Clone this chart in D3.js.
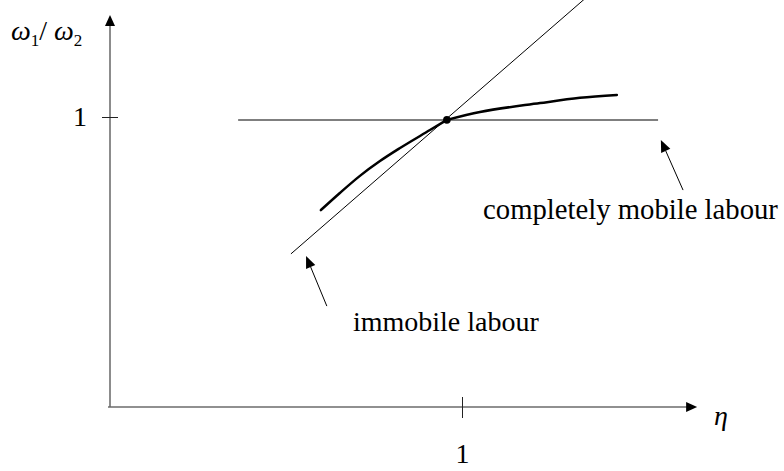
<!DOCTYPE html>
<html>
<head>
<meta charset="utf-8">
<script src="https://cdn.jsdelivr.net/npm/d3@7"></script>
<style>
body { margin: 0; background: #fff; }
text { font-family: "Liberation Serif", "Times New Roman", serif; fill: #000; }
</style>
</head>
<body>
<script>
var width = 784;
var height = 471;

// values (eta on x, w1/w2 on y)
var xTicks = [1];
var yTicks = [1];
var tickLabels = ["1"];
var xAxisEnd = 1.668;
var yAxisEnd = 1.352;

// 45 degree line = immobile labour
var immobileLine = [[0.514, 0.528], [1.37, 1.43]];
// horizontal line = completely mobile labour
var mobileLine = [[0.364, 0.99], [1.557, 0.99]];
// the curve between them (left and right of the equilibrium)
var curveLeftEta = [0.599, 0.653, 0.710, 0.767, 0.824, 0.909, 0.957];
var curveLeftRatio = [0.679, 0.738, 0.797, 0.848, 0.893, 0.955, 0.990];
var curveRightEta = [0.957, 1.051, 1.222, 1.335, 1.440];
var curveRightRatio = [0.990, 1.017, 1.048, 1.066, 1.076];
var equilibrium = [0.957, 0.99];

// annotation arrows: [tail, tip]
var arrows = [
  [[0.616, 0.348], [0.557, 0.521]],
  [[1.628, 0.748], [1.565, 0.921]]
];
var labels = ["immobile labour", "completely mobile labour"];
var labelPos = [[0.690, 0.262], [1.06, 0.648]];

var svg = d3.select("body").append("svg")
            .attr("width", width)
            .attr("height", height);

var x = d3.scaleLinear().domain([0, 1]).range([110, 462]);
var y = d3.scaleLinear().domain([0, 1]).range([407, 117]);

var line = d3.line()
             .x(function(d){ return x(d[0]); })
             .y(function(d){ return y(d[1]); });
var smooth = d3.line()
             .x(function(d){ return x(d[0]); })
             .y(function(d){ return y(d[1]); })
             .curve(d3.curveMonotoneX);

// axes lines
svg.append("line")
   .attr("x1", x(0) - 2).attr("x2", x(xAxisEnd) - 8)
   .attr("y1", y(0)).attr("y2", y(0))
   .attr("stroke", "#222").attr("stroke-width", 1.2);
svg.append("path")
   .attr("d", "M" + x(xAxisEnd) + "," + y(0) + "l-11,-5l0,10z")
   .attr("fill", "#000");

svg.append("line")
   .attr("x1", x(0)).attr("x2", x(0))
   .attr("y1", y(0)).attr("y2", y(yAxisEnd) + 8)
   .attr("stroke", "#666").attr("stroke-width", 1.5);
svg.append("path")
   .attr("d", "M" + x(0) + "," + y(yAxisEnd) + "l-5,11l10,0z")
   .attr("fill", "#000");

// ticks
var xAxis = d3.axisBottom(x)
    .tickValues(xTicks)
    .tickFormat(function(d, i){ return tickLabels[i]; })
    .tickSize(11)
    .tickPadding(25);
var gx = svg.append("g")
   .attr("transform", "translate(0," + y(0) + ")")
   .call(xAxis);
gx.select(".domain").remove();
gx.selectAll(".tick line").attr("y1", -10).attr("stroke", "#222");
gx.selectAll(".tick text")
  .attr("font-size", 28).attr("font-family", "Liberation Serif").attr("fill", "#000");

var yAxis = d3.axisLeft(y)
    .tickValues(yTicks)
    .tickFormat(function(d, i){ return tickLabels[i]; })
    .tickSize(8)
    .tickPadding(15);
var gy = svg.append("g")
   .attr("transform", "translate(" + x(0) + ",0)")
   .call(yAxis);
gy.select(".domain").remove();
gy.selectAll(".tick line").attr("x2", 8).attr("x1", -8).attr("stroke", "#222");
gy.selectAll(".tick text")
  .attr("font-size", 28).attr("font-family", "Liberation Serif").attr("fill", "#000");

// axis titles
var yt = svg.append("text")
   .attr("x", 11).attr("y", 40)
   .attr("font-size", 28);
yt.append("tspan").attr("font-style", "italic").text("\u03c9");
yt.append("tspan").attr("font-size", 17).attr("dy", 6).text("1");
yt.append("tspan").attr("dy", -6).text("/ ");
yt.append("tspan").attr("font-style", "italic").text("\u03c9");
yt.append("tspan").attr("font-size", 17).attr("dy", 6).text("2");

svg.append("text")
   .attr("x", 714).attr("y", 425)
   .attr("font-size", 28)
   .attr("font-style", "italic")
   .text("\u03b7");

// schedules
svg.append("path")
   .attr("d", line(immobileLine))
   .attr("stroke", "#000").attr("stroke-width", 1).attr("fill", "none");

svg.append("path")
   .attr("d", line(mobileLine))
   .attr("stroke", "#555").attr("stroke-width", 1.5).attr("fill", "none");

var leftPts = curveLeftEta.map(function(d, i){ return [d, curveLeftRatio[i]]; });
var rightPts = curveRightEta.map(function(d, i){ return [d, curveRightRatio[i]]; });
[leftPts, rightPts].forEach(function(pts){
  svg.append("path")
     .attr("d", smooth(pts))
     .attr("stroke", "#000").attr("stroke-width", 2.5)
     .attr("stroke-linecap", "round").attr("fill", "none");
});

svg.append("circle")
   .attr("cx", x(equilibrium[0])).attr("cy", y(equilibrium[1]))
   .attr("r", 3.8).attr("fill", "#000");

// annotations
arrows.forEach(function(a){
  var x0 = x(a[0][0]), y0 = y(a[0][1]), x1 = x(a[1][0]), y1 = y(a[1][1]);
  var ang = Math.atan2(y1 - y0, x1 - x0);
  var len = 12, hw = 5;
  var bx = x1 - len * Math.cos(ang), by = y1 - len * Math.sin(ang);
  svg.append("line")
     .attr("x1", x0).attr("y1", y0).attr("x2", bx).attr("y2", by)
     .attr("stroke", "#000").attr("stroke-width", 1);
  svg.append("path")
     .attr("d", "M" + x1 + "," + y1 +
                "L" + (bx + hw * Math.sin(ang)) + "," + (by - hw * Math.cos(ang)) +
                "L" + (bx - hw * Math.sin(ang)) + "," + (by + hw * Math.cos(ang)) + "Z")
     .attr("fill", "#000");
});

svg.selectAll("text.note")
   .data(labels)
   .enter()
   .append("text")
   .attr("class", "note")
   .attr("x", function(d, i){ return x(labelPos[i][0]); })
   .attr("y", function(d, i){ return y(labelPos[i][1]); })
   .attr("font-size", function(d, i){ return i == 1 ? 28.7 : 28; })
   .text(function(d){ return d; });
</script>
</body>
</html>
